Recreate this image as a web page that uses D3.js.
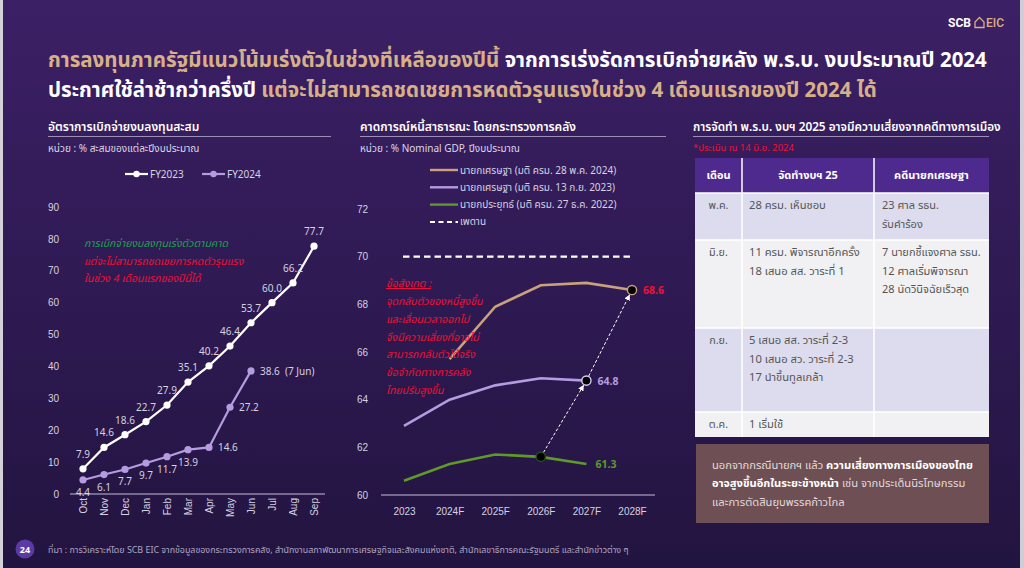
<!DOCTYPE html>
<html>
<head>
<meta charset="utf-8">
<script src="https://cdn.jsdelivr.net/npm/d3@7"></script>
<style>
  html, body { margin: 0; padding: 0; background: #241540; }
  svg { display: block; font-family: "Noto Sans Thai", "Tahoma", "Noto Sans", sans-serif; }
</style>
</head>
<body>
<svg id="chart" width="1024" height="568"></svg>
<script>
// ---- data ----
const months = ["Oct", "Nov", "Dec", "Jan", "Feb", "Mar", "Apr", "May", "Jun", "Jul", "Aug", "Sep"];
const fy2023 = [7.9, 14.6, 18.6, 22.7, 27.9, 35.1, 40.2, 46.4, 53.7, 60.0, 66.2, 77.7];
const fy2024 = [4.4, 6.1, 7.7, 9.7, 11.7, 13.9, 14.6, 27.2, 38.6];
const disburseTicks = [0, 10, 20, 30, 40, 50, 60, 70, 80, 90];

const years = ["2023", "2024F", "2025F", "2026F", "2027F", "2028F"];
const debtMay24 = [null, 65.7, 67.9, 68.8, 68.9, 68.6];
const debtSep23 = [62.9, 64.0, 64.6, 64.9, 64.8];
const debtDec22 = [60.6, 61.3, 61.7, 61.6, 61.3];
const debtCeiling = 70;
const debtTicks = [60, 62, 64, 66, 68, 70, 72];
const debtLegend = [
  "นายกเศรษฐา (มติ ครม. 28 พ.ค. 2024)",
  "นายกเศรษฐา (มติ ครม. 13 ก.ย. 2023)",
  "นายกประยุทธ์ (มติ ครม. 27 ธ.ค. 2022)",
  "เพดาน"
];

const tableHeader = ["เดือน", "จัดทำงบฯ 25", "คดีนายกเศรษฐา"];
const tableMonths = ["พ.ค.", "มิ.ย.", "ก.ย.", "ต.ค."];
const tableBudget = [
  ["28 ครม. เห็นชอบ"],
  ["11 ครม. พิจารณาอีกครั้ง", "18 เสนอ สส. วาระที่ 1"],
  ["5 เสนอ สส. วาระที่ 2-3", "10 เสนอ สว. วาระที่ 2-3", "17 นำขึ้นทูลเกล้า"],
  ["1 เริ่มใช้"]
];
const tableCase = [
  ["23 ศาล รธน.", "รับคำร้อง"],
  ["7 นายกชี้แจงศาล รธน.", "12 ศาลเริ่มพิจารณา", "28 นัดวินิจฉัยเร็วสุด"],
  [],
  []
];

const gold = "#d8b088";
const lineGold = "#c9a27c";
const lilac = "#b59ce0";
const green = "#5e9a2a";
const red = "#ee1133";
const labelGrey = "#d6d2e0";

const svg = d3.select("#chart");

// background
const defs = svg.append("defs");
const bg = defs.append("linearGradient").attr("id", "bg").attr("x1", 0).attr("y1", 0).attr("x2", 0).attr("y2", 1);
bg.append("stop").attr("offset", "0%").attr("stop-color", "#3c2066");
bg.append("stop").attr("offset", "100%").attr("stop-color", "#221440");
svg.append("rect").attr("width", 1024).attr("height", 568).attr("fill", "url(#bg)");
svg.append("rect").attr("width", 3).attr("height", 568).attr("fill", "#d4d2d8");
svg.append("rect").attr("x", 1020).attr("width", 4).attr("height", 568).attr("fill", "#cfcdd6");

defs.append("marker").attr("id", "arrow").attr("viewBox", "0 0 10 10")
  .attr("refX", 9).attr("refY", 5).attr("markerWidth", 6).attr("markerHeight", 6)
  .attr("orient", "auto")
  .append("path").attr("d", "M0,0L10,5L0,10z").attr("fill", "#ffffff");

// logo
const logo = svg.append("g").attr("transform", "translate(948,27)");
logo.append("text").attr("fill", "#ffffff").attr("font-size", 12).attr("font-weight", 700)
  .attr("font-family", "Roboto, sans-serif").text("SCB");
logo.append("path").attr("d", "M27,0.5 L27,-5 L31.5,-9.5 L36,-5 L36,0.5 Z")
  .attr("fill", "none").attr("stroke", gold).attr("stroke-width", 1.3);
logo.append("text").attr("x", 38).attr("fill", gold).attr("font-size", 12).attr("font-weight", 500)
  .attr("font-family", "Roboto, sans-serif").text("EIC");

// headline
const h1 = svg.append("text").attr("x", 48).attr("y", 67).attr("font-size", 20.5).attr("font-weight", 700);
h1.append("tspan").attr("fill", gold).text("การลงทุนภาครัฐมีแนวโน้มเร่งตัวในช่วงที่เหลือของปีนี้ ");
h1.append("tspan").attr("fill", "#ffffff").text("จากการเร่งรัดการเบิกจ่ายหลัง พ.ร.บ. งบประมาณปี 2024");
const h2 = svg.append("text").attr("x", 48).attr("y", 97).attr("font-size", 20.5).attr("font-weight", 700);
h2.append("tspan").attr("fill", "#ffffff").text("ประกาศใช้ล่าช้ากว่าครึ่งปี ");
h2.append("tspan").attr("fill", gold).text("แต่จะไม่สามารถชดเชยการหดตัวรุนแรงในช่วง 4 เดือนแรกของปี 2024 ได้");

function panelTitle(x, x2, title, unit, size) {
  svg.append("text").attr("x", x).attr("y", 131).attr("fill", "#ffffff")
    .attr("font-size", size || 12).attr("font-weight", 600).text(title);
  svg.append("line").attr("x1", x).attr("x2", x2).attr("y1", 136.5).attr("y2", 136.5)
    .attr("stroke", "#9c90b4").attr("stroke-width", 1);
  if (unit) {
    svg.append("text").attr("x", x).attr("y", 152).attr("fill", "#ddd8e6")
      .attr("font-size", 10).text(unit);
  }
}

// ---------- left chart ----------
panelTitle(48, 331, "อัตราการเบิกจ่ายงบลงทุนสะสม", "หน่วย : % สะสมของแต่ละปีงบประมาณ");

const xL = d3.scalePoint().domain(months).range([83, 314]);
const yL = d3.scaleLinear().domain([0, 90]).range([494, 207]);

const axL = svg.append("g").attr("transform", "translate(62,0)")
  .call(d3.axisLeft(yL).tickValues(disburseTicks).tickSize(0).tickPadding(3).tickFormat(d3.format("d")));
axL.select(".domain").remove();
axL.selectAll("text").attr("fill", labelGrey).attr("font-size", 10);

svg.append("line").attr("x1", 70).attr("x2", 325).attr("y1", yL(0)).attr("y2", yL(0))
  .attr("stroke", "#c4bcd4").attr("stroke-width", 1);

const axLB = svg.append("g").attr("transform", `translate(0,${yL(0)})`)
  .call(d3.axisBottom(xL).tickSize(0).tickPadding(4));
axLB.select(".domain").remove();
axLB.selectAll("text").attr("fill", labelGrey).attr("font-size", 10)
  .attr("transform", "rotate(-90)").attr("text-anchor", "end")
  .attr("y", 0).attr("x", -4).attr("dy", "0.32em");

const lineL = d3.line().x((d, i) => xL(months[i])).y(d => yL(d));

svg.append("path").datum(fy2023).attr("d", lineL).attr("fill", "none")
  .attr("stroke", "#ffffff").attr("stroke-width", 2.2);
svg.append("path").datum(fy2024).attr("d", lineL).attr("fill", "none")
  .attr("stroke", lilac).attr("stroke-width", 2.2);

svg.selectAll(".p23").data(fy2023).join("circle").attr("class", "p23")
  .attr("cx", (d, i) => xL(months[i])).attr("cy", d => yL(d)).attr("r", 3.6).attr("fill", "#ffffff");
svg.selectAll(".p24").data(fy2024).join("circle").attr("class", "p24")
  .attr("cx", (d, i) => xL(months[i])).attr("cy", d => yL(d)).attr("r", 3.6).attr("fill", lilac);

svg.selectAll(".l23").data(fy2023).join("text").attr("class", "l23")
  .attr("x", (d, i) => xL(months[i])).attr("y", d => yL(d) - 11)
  .attr("text-anchor", "middle").attr("fill", labelGrey).attr("font-size", 10)
  .text(d => d.toFixed(1));
svg.selectAll(".l24").data(fy2024).join("text").attr("class", "l24")
  .attr("x", (d, i) => i < 6 ? xL(months[i]) : xL(months[i]) + 9)
  .attr("y", (d, i) => i < 6 ? yL(d) + 16 : yL(d) + 4)
  .attr("text-anchor", (d, i) => i < 6 ? "middle" : "start")
  .attr("fill", labelGrey).attr("font-size", 10)
  .attr("xml:space", "preserve")
  .text((d, i) => i === fy2024.length - 1 ? d.toFixed(1) + "  (7 Jun)" : d.toFixed(1));

// legend left
const legL = [["FY2023", "#ffffff", 125], ["FY2024", lilac, 202]];
legL.forEach(([name, c, x]) => {
  svg.append("line").attr("x1", x).attr("x2", x + 23).attr("y1", 174).attr("y2", 174)
    .attr("stroke", c).attr("stroke-width", 2.2);
  svg.append("circle").attr("cx", x + 11.5).attr("cy", 174).attr("r", 3.2).attr("fill", c);
  svg.append("text").attr("x", x + 25).attr("y", 177.5).attr("fill", labelGrey)
    .attr("font-size", 10).text(name);
});

// annotation left
const annL = svg.append("g").attr("font-size", 10.5).attr("font-style", "italic");
annL.append("text").attr("x", 84).attr("y", 247).attr("fill", "#1fa052").text("การเบิกจ่ายงบลงทุนเร่งตัวตามคาด");
annL.append("text").attr("x", 84).attr("y", 265).attr("fill", red).text("แต่จะไม่สามารถชดเชยการหดตัวรุนแรง");
annL.append("text").attr("x", 84).attr("y", 282).attr("fill", red).text("ในช่วง 4 เดือนแรกของปีนี้ได้");

// ---------- middle chart ----------
panelTitle(360, 666, "คาดการณ์หนี้สาธารณะ โดยกระทรวงการคลัง", "หน่วย : % Nominal GDP, ปีงบประมาณ");

const xM = d3.scalePoint().domain(years).range([404, 632]);
const yM = d3.scaleLinear().domain([60, 72]).range([495, 209]);

const axM = svg.append("g").attr("transform", "translate(370,0)")
  .call(d3.axisLeft(yM).tickValues(debtTicks).tickSize(0).tickPadding(2).tickFormat(d3.format("d")));
axM.select(".domain").remove();
axM.selectAll("text").attr("fill", labelGrey).attr("font-size", 10);

svg.append("line").attr("x1", 381).attr("x2", 655).attr("y1", yM(60)).attr("y2", yM(60))
  .attr("stroke", "#c4bcd4").attr("stroke-width", 1);

const axMB = svg.append("g").attr("transform", `translate(0,${yM(60)})`)
  .call(d3.axisBottom(xM).tickSize(0).tickPadding(13));
axMB.select(".domain").remove();
axMB.selectAll("text").attr("fill", labelGrey).attr("font-size", 10);

// ceiling
svg.append("line").attr("x1", xM("2023") - 1).attr("x2", xM("2028F") - 2)
  .attr("y1", yM(debtCeiling)).attr("y2", yM(debtCeiling))
  .attr("stroke", "#ffffff").attr("stroke-width", 2.4).attr("stroke-dasharray", "6.5,4");

const lineM = d3.line().defined(d => d != null).x((d, i) => xM(years[i])).y(d => yM(d));
[[debtDec22, green], [debtSep23, lilac], [debtMay24, lineGold]].forEach(([s, c]) => {
  svg.append("path").datum(s).attr("d", lineM).attr("fill", "none")
    .attr("stroke", c).attr("stroke-width", 2.6);
});

// dashed arrows (turning points)
const pGreen = [xM("2026F"), yM(debtDec22[3])];
const pLilac = [xM("2027F"), yM(debtSep23[4])];
const pGold = [xM("2028F"), yM(debtMay24[5])];
function arrow(a, b) {
  const dx = b[0] - a[0], dy = b[1] - a[1], len = Math.hypot(dx, dy);
  const ux = dx / len, uy = dy / len;
  svg.append("line")
    .attr("x1", a[0] + ux * 5).attr("y1", a[1] + uy * 5)
    .attr("x2", b[0] - ux * 5.5).attr("y2", b[1] - uy * 5.5)
    .attr("stroke", "#ffffff").attr("stroke-width", 1).attr("stroke-dasharray", "3,2")
    .attr("marker-end", "url(#arrow)");
}
arrow(pGreen, pLilac);
arrow(pLilac, pGold);

[[pGreen, "#2c4a14"], [pLilac, "#d8cdf0"], [pGold, lineGold]].forEach(([p, c]) => {
  svg.append("circle").attr("cx", p[0]).attr("cy", p[1]).attr("r", 4.6)
    .attr("fill", "#000000").attr("stroke", c).attr("stroke-width", 1.4);
});

svg.append("text").attr("x", pGold[0] + 11).attr("y", pGold[1] + 4).attr("fill", red)
  .attr("font-size", 10.5).attr("font-weight", 700).text(debtMay24[5].toFixed(1));
svg.append("text").attr("x", pLilac[0] + 11).attr("y", pLilac[1] + 4).attr("fill", lilac)
  .attr("font-size", 10.5).attr("font-weight", 700).text(debtSep23[4].toFixed(1));
svg.append("text").attr("x", xM("2027F") + 9).attr("y", yM(debtDec22[4]) + 4).attr("fill", green)
  .attr("font-size", 10.5).attr("font-weight", 700).text(debtDec22[4].toFixed(1));

// legend middle
const legColors = [lineGold, lilac, green, "#ffffff"];
debtLegend.forEach((name, i) => {
  const y = 170 + i * 17.3;
  svg.append("line").attr("x1", 430).attr("x2", 458).attr("y1", y).attr("y2", y)
    .attr("stroke", legColors[i]).attr("stroke-width", i === 3 ? 2 : 2.4)
    .attr("stroke-dasharray", i === 3 ? "5,3.5" : null);
  svg.append("text").attr("x", 460).attr("y", y + 3.5).attr("fill", labelGrey)
    .attr("font-size", 10).text(name);
});

// annotation middle
const annM = svg.append("g").attr("font-size", 10.5).attr("font-style", "italic").attr("fill", red);
annM.append("text").attr("x", 386).attr("y", 287).attr("text-decoration", "underline").text("ข้อสังเกต :");
["จุดกลับตัวของหนี้สูงขึ้น", "และเลื่อนเวลาออกไป", "จึงมีความเสี่ยงที่อาจไม่",
 "สามารถกลับตัวได้จริง", "ข้อจำกัดทางการคลัง", "ไทยปรับสูงขึ้น"].forEach((t, i) => {
  annM.append("text").attr("x", 386).attr("y", 305 + i * 17.8).text(t);
});

// ---------- right table ----------
panelTitle(693, 989, "การจัดทำ พ.ร.บ. งบฯ 2025 อาจมีความเสี่ยงจากคดีทางการเมือง", null, 11.8);
svg.append("text").attr("x", 693).attr("y", 151).attr("fill", red).attr("font-size", 9.5)
  .text("*ประเมิน ณ 14 มิ.ย. 2024");

const colX = [695, 742, 874, 989];
const rowY = [158, 193, 240, 328, 412, 437];
const tbl = svg.append("g");
tbl.append("rect").attr("x", colX[0]).attr("y", rowY[0]).attr("width", colX[3] - colX[0])
  .attr("height", rowY[1] - rowY[0]).attr("fill", "#4e2a8e");
tableHeader.forEach((h, j) => {
  tbl.append("text").attr("x", (colX[j] + colX[j + 1]) / 2).attr("y", 179)
    .attr("text-anchor", "middle").attr("fill", "#ffffff").attr("font-size", 11)
    .attr("font-weight", 700).text(h);
});
tableMonths.forEach((m, i) => {
  const y0 = rowY[i + 1], y1 = rowY[i + 2];
  tbl.append("rect").attr("x", colX[0]).attr("y", y0).attr("width", colX[3] - colX[0])
    .attr("height", y1 - y0).attr("fill", i % 2 === 0 ? "#dcdcee" : "#f1f1f3");
  tbl.append("text").attr("x", (colX[0] + colX[1]) / 2).attr("y", y0 + 16)
    .attr("text-anchor", "middle").attr("fill", "#555555").attr("font-size", 10.8).text(m);
  tableBudget[i].forEach((t, k) => {
    tbl.append("text").attr("x", colX[1] + 7).attr("y", y0 + 16 + k * 18.5)
      .attr("fill", "#555555").attr("font-size", 11.2).text(t);
  });
  tableCase[i].forEach((t, k) => {
    tbl.append("text").attr("x", colX[2] + 8).attr("y", y0 + 16 + k * 18.5)
      .attr("fill", "#555555").attr("font-size", 11).text(t);
  });
});
// grid lines
rowY.slice(1, 5).forEach(y => {
  tbl.append("line").attr("x1", colX[0]).attr("x2", colX[3]).attr("y1", y).attr("y2", y)
    .attr("stroke", "#ffffff").attr("stroke-width", 1.5);
});
[colX[1], colX[2]].forEach(x => {
  tbl.append("line").attr("x1", x).attr("x2", x).attr("y1", rowY[0]).attr("y2", rowY[5])
    .attr("stroke", "#ffffff").attr("stroke-width", 1.5);
});

// brown note box
svg.append("rect").attr("x", 696).attr("y", 444).attr("width", 293).attr("height", 79).attr("fill", "#6e4f54");
const note = svg.append("g").attr("font-size", 11.2);
const n1 = note.append("text").attr("x", 712).attr("y", 469);
n1.append("tspan").attr("fill", "#e4dada").text("นอกจากกรณีนายกฯ แล้ว ");
n1.append("tspan").attr("fill", "#ffffff").attr("font-weight", 700).text("ความเสี่ยงทางการเมืองของไทย");
const n2 = note.append("text").attr("x", 712).attr("y", 487);
n2.append("tspan").attr("fill", "#ffffff").attr("font-weight", 700).text("อาจสูงขึ้นอีกในระยะข้างหน้า");
n2.append("tspan").attr("fill", "#e4dada").text(" เช่น จากประเด็นนิรโทษกรรม");
note.append("text").attr("x", 712).attr("y", 506).attr("fill", "#e4dada").text("และการตัดสินยุบพรรคก้าวไกล");

// footer
svg.append("circle").attr("cx", 25).attr("cy", 549).attr("r", 9.5).attr("fill", "#5c3aa6");
svg.append("text").attr("x", 25).attr("y", 552.5).attr("text-anchor", "middle").attr("fill", "#ffffff")
  .attr("font-size", 9).attr("font-weight", 700).text("24");
svg.append("text").attr("x", 48).attr("y", 553).attr("fill", "#aea6c2").attr("font-size", 8.9)
  .text("ที่มา : การวิเคราะห์โดย SCB EIC จากข้อมูลของกระทรวงการคลัง, สำนักงานสภาพัฒนาการเศรษฐกิจและสังคมแห่งชาติ, สำนักเลขาธิการคณะรัฐมนตรี และสำนักข่าวต่าง ๆ");
</script>
</body>
</html>
